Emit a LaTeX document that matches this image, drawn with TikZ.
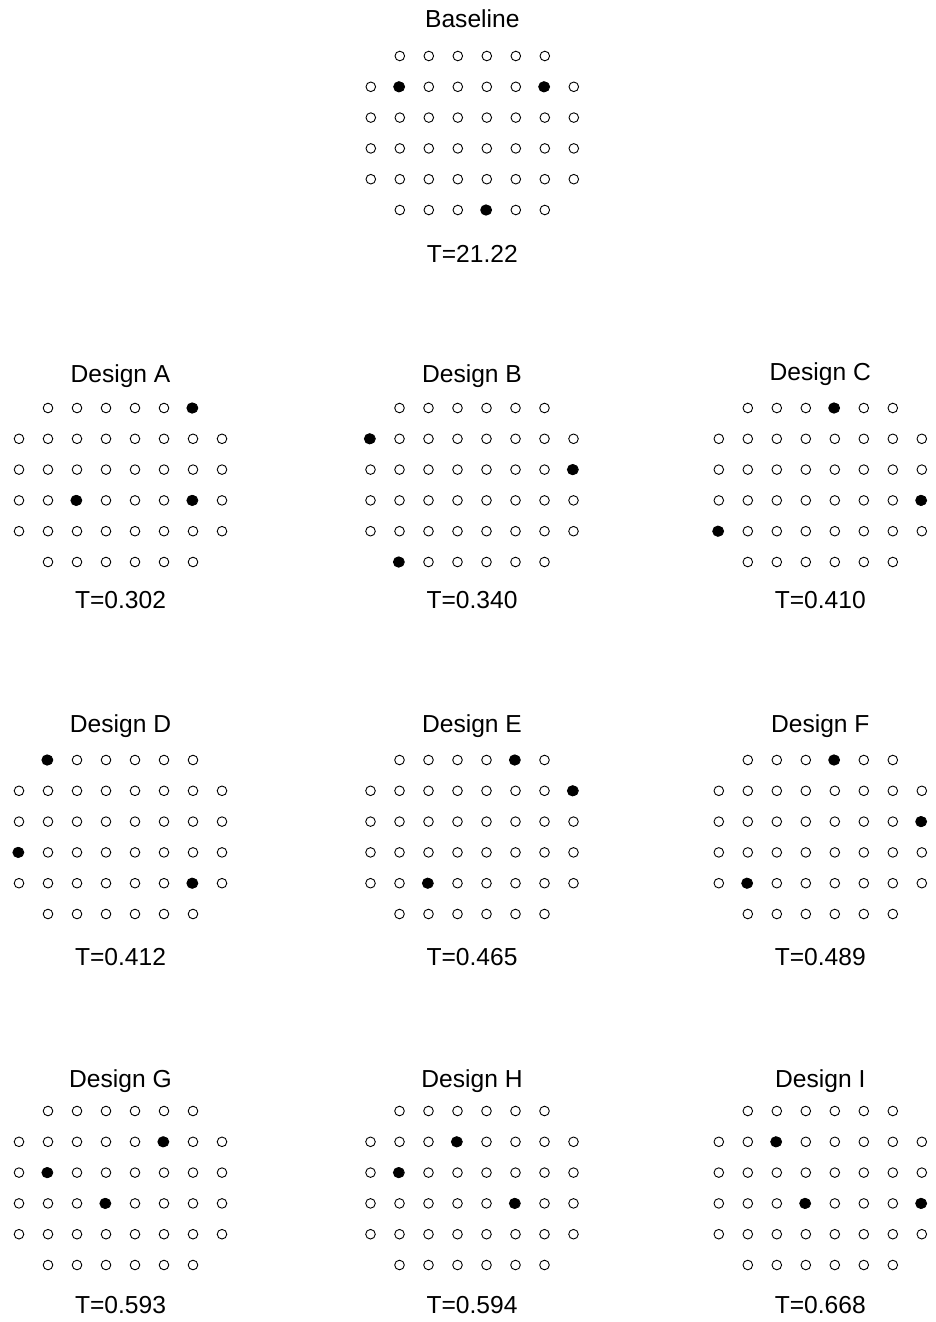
\documentclass[tikz,border=0pt]{standalone}
\usepackage{fontspec}
\setmainfont{Liberation Sans}
\newcommand\dotpanel[8]{%
  \node[lbl] (#1-title) at (#2,#5) {#4};
  \node[lbl] (#1-T) at (#2,#7) {#6};
  \foreach \r in {2,...,5} {\foreach \c in {1,...,8} {\draw[opendot] ({#2+(\c-4.5)*29},{#3+(\r-1)*30.8}) circle[radius=4.8pt];}}
  \foreach \r in {1,6} {\foreach \c in {2,...,7} {\draw[opendot] ({#2+(\c-4.5)*29},{#3+(\r-1)*30.8}) circle[radius=4.8pt];}}
  \foreach \r/\c in {#8} {\fill[fulldot] ({#2+(\c-4.5)*29-1},{#3+(\r-1)*30.8}) circle[radius=5.6pt];}
}
\begin{document}
\begin{tikzpicture}[x=1pt,y=-1pt,
  opendot/.style={draw=black,line width=0.9pt,fill=white},
  fulldot/.style={fill=black},
  lbl/.style={anchor=base,inner sep=0pt,font=\fontsize{24.6}{29}\selectfont}]
\useasboundingbox (0,0) rectangle (935,1322);
\dotpanel{base}{472.3}{56}{Baseline}{28}{T=21.22}{262.5}{2/2,2/7,6/5}
\dotpanel{A}{120.5}{408}{Design A}{382}{T=0.302}{608.5}{1/7,4/3,4/7}
\dotpanel{B}{472}{408}{Design B}{382}{T=0.340}{608.5}{2/1,3/8,6/2}
\dotpanel{C}{820.3}{408}{Design C}{380}{T=0.410}{608.5}{1/5,4/8,5/1}
\dotpanel{D}{120.5}{760}{Design D}{732}{T=0.412}{965}{1/2,4/1,5/7}
\dotpanel{E}{472}{760}{Design E}{732}{T=0.465}{965}{1/6,2/8,5/3}
\dotpanel{F}{820.3}{760}{Design F}{732}{T=0.489}{965}{1/5,3/8,5/2}
\dotpanel{G}{120.5}{1111}{Design G}{1087}{T=0.593}{1313}{2/6,3/2,4/4}
\dotpanel{H}{472}{1111}{Design H}{1087}{T=0.594}{1313}{2/4,3/2,4/6}
\dotpanel{I}{820.3}{1111}{Design I}{1087}{T=0.668}{1313}{2/3,4/4,4/8}
\end{tikzpicture}
\end{document}
